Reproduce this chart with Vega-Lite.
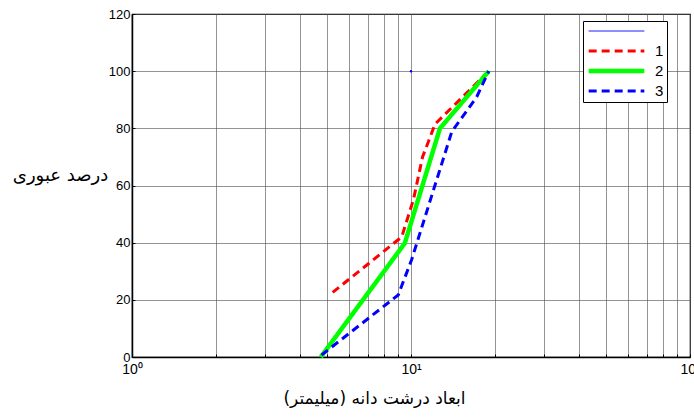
{
  "$schema": "https://vega.github.io/schema/vega-lite/v6.json",
  "width": 558,
  "height": 343,
  "autosize": {"type": "none"},
  "padding": {"left": 132, "top": 14, "right": 4, "bottom": 61},
  "background": "white",
  "config": {
    "view": {"stroke": "black", "strokeWidth": 1.2},
    "font": "Liberation Sans"
  },
  "data": {
    "values": [
      {"s": "0", "x": 10, "y": 100},
      {"s": "1", "x": 5.24, "y": 22.6},
      {"s": "1", "x": 9.26, "y": 42},
      {"s": "1", "x": 10.2, "y": 55},
      {"s": "1", "x": 11.0, "y": 70},
      {"s": "1", "x": 12.2, "y": 81.5},
      {"s": "1", "x": 19, "y": 100},
      {"s": "2", "x": 4.75, "y": 0},
      {"s": "2", "x": 9.5, "y": 39.8},
      {"s": "2", "x": 12.7, "y": 80},
      {"s": "2", "x": 19, "y": 100},
      {"s": "3", "x": 4.78, "y": 0.7},
      {"s": "3", "x": 9.0, "y": 21.7},
      {"s": "3", "x": 10.05, "y": 34},
      {"s": "3", "x": 14.0, "y": 78.8},
      {"s": "3", "x": 17.2, "y": 91},
      {"s": "3", "x": 19, "y": 100}
    ]
  },
  "encoding": {
    "x": {
      "field": "x", "type": "quantitative",
      "scale": {"type": "log", "domain": [1, 100], "nice": false},
      "axis": {
        "values": [1,2,3,4,5,6,7,8,9,10,20,30,40,50,60,70,80,90,100],
        "labelExpr": "datum.value == 1 ? '10⁰' : datum.value == 10 ? '10¹' : datum.value == 100 ? '10²' : ''",
        "grid": true, "gridColor": "#555", "gridOpacity": 0.8, "gridWidth": 0.8,
        "domain": true, "domainColor": "black", "domainWidth": 1.5,
        "tickColor": "black", "tickSize": -3,
        "labelFontSize": 14, "labelColor": "black", "labelPadding": 8,
        "labelFlush": false, "labelOverlap": false,
        "title": "ابعاد درشت دانه (میلیمتر)",
        "titleFont": "DejaVu Sans", "titleFontSize": 17, "titleFontWeight": "normal",
        "titleColor": "black", "titleX": 242, "titleY": 41, "titleBaseline": "middle", "titleAnchor": null
      }
    },
    "y": {
      "field": "y", "type": "quantitative",
      "scale": {"domain": [0, 120], "nice": false},
      "axis": {
        "values": [0, 20, 40, 60, 80, 100, 120],
        "grid": true, "gridColor": "#555", "gridOpacity": 0.8, "gridWidth": 0.8,
        "domainColor": "black", "domainWidth": 1.5,
        "tickColor": "black", "tickSize": -3,
        "labelFontSize": 13, "labelColor": "black", "labelPadding": 5,
        "title": "درصد عبوری",
        "titleFont": "DejaVu Sans", "titleFontSize": 18, "titleFontWeight": "normal",
        "titleColor": "black", "titleAngle": 0, "titleX": -72, "titleY": 161,
        "titleAlign": "center", "titleBaseline": "middle"
      }
    }
  },
  "layer": [
    {
      "mark": {"type": "line", "strokeCap": "butt"},
      "encoding": {
        "color": {
          "field": "s", "type": "nominal",
          "scale": {"domain": ["0", "1", "2", "3"], "range": ["#0000ff", "#ff0000", "#00ff00", "#0000ff"]},
          "legend": {
            "orient": "none", "legendX": 451, "legendY": 7,
            "title": null, "symbolType": "stroke", "symbolSize": 3100,
            "clipHeight": 14,
            "labelExpr": "datum.label == '0' ? '' : datum.label",
            "labelFontSize": 15, "labelColor": "black", "labelOffset": 8,
            "rowPadding": 5, "padding": 3,
            "strokeColor": "black", "fillColor": "white"
          }
        },
        "strokeDash": {
          "field": "s", "type": "nominal",
          "scale": {"domain": ["0", "1", "2", "3"], "range": [[1, 0], [8, 5], [1, 0], [8, 5]]},
          "legend": null
        },
        "strokeWidth": {
          "field": "s", "type": "nominal",
          "scale": {"type": "ordinal", "domain": ["0", "1", "2", "3"], "range": [1, 3, 4.5, 3]},
          "legend": null
        }
      }
    },
    {
      "transform": [{"filter": "datum.s == '0'"}],
      "mark": {"type": "point", "filled": true, "size": 6, "color": "#0000ff", "opacity": 1}
    }
  ]
}
